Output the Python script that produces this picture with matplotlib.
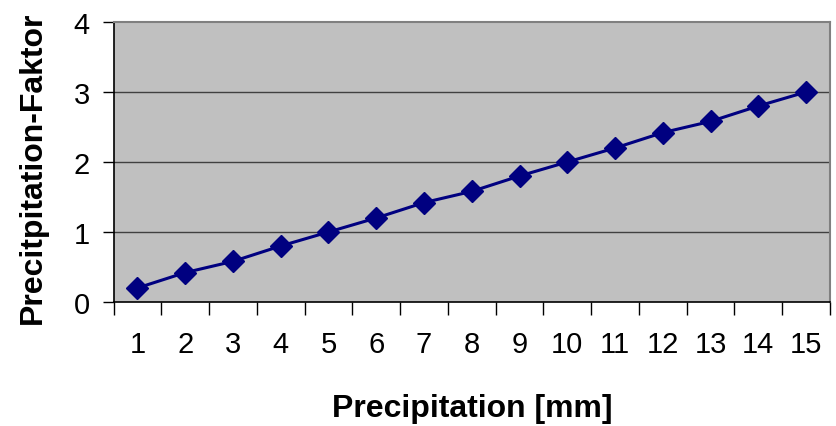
import matplotlib
matplotlib.use("Agg")
import matplotlib.pyplot as plt
from matplotlib.ticker import FixedLocator

plt.rcParams['font.family'] = ['Liberation Sans', 'DejaVu Sans']

categories = list(range(1, 16))
values = [0.2, 0.42, 0.58, 0.8, 1.0, 1.2, 1.42, 1.58, 1.8, 2.0, 2.2, 2.42, 2.58, 2.8, 3.0]
yticks = [0, 1, 2, 3, 4]

fig = plt.figure(figsize=(8.36, 4.27), dpi=100)
W, H = 836, 427
ax = fig.add_axes([113.5 / W, 1 - 303 / H, (830 - 113.5) / W, (303 - 23) / H])
ax.set_facecolor('#C0C0C0')

pos = list(range(len(categories)))
ax.plot(pos, values, color='#000080', lw=2.2, marker='D', ms=11.5,
        markerfacecolor='#000080', markeredgecolor='#000080', zorder=3)

ax.set_xlim(-0.5, len(categories) - 0.5)
ax.set_ylim(0, 4)
ax.set_yticks(yticks)
ax.set_yticklabels([str(v) for v in yticks])
for y in yticks[1:-1]:
    ax.axhline(y, color='#404040', lw=1.0, zorder=1)

ax.set_xticks(pos)
ax.set_xticklabels([str(c) for c in categories])
ax.xaxis.set_minor_locator(FixedLocator([p - 0.5 for p in pos] + [len(categories) - 0.5]))
ax.tick_params(axis='x', which='major', length=0, pad=20, labelsize=21)
ax.tick_params(axis='x', which='minor', length=9, width=1, color='black')
ax.tick_params(axis='y', which='major', length=8, width=1, pad=9, labelsize=21)

for s in ['left', 'bottom']:
    ax.spines[s].set_color('black')
    ax.spines[s].set_linewidth(1.2)
for s in ['top', 'right']:
    ax.spines[s].set_color('#808080')
    ax.spines[s].set_linewidth(1.5)

ax.set_xlabel('Precipitation [mm]', fontsize=23, fontweight='bold')
ax.set_ylabel('Precitpitation-Faktor', fontsize=23, fontweight='bold')
ax.xaxis.set_label_coords(0.5, -(409 - 303) / (303 - 23), transform=ax.transAxes)
ax.xaxis.label.set_va('center')
ax.yaxis.set_label_coords(-(113.5 - 32.5) / (830 - 113.5), 0.5 + (163 - 168) / (303 - 23),
                          transform=ax.transAxes)
ax.yaxis.label.set_va('center')

fig.savefig('out.png', dpi=100)
